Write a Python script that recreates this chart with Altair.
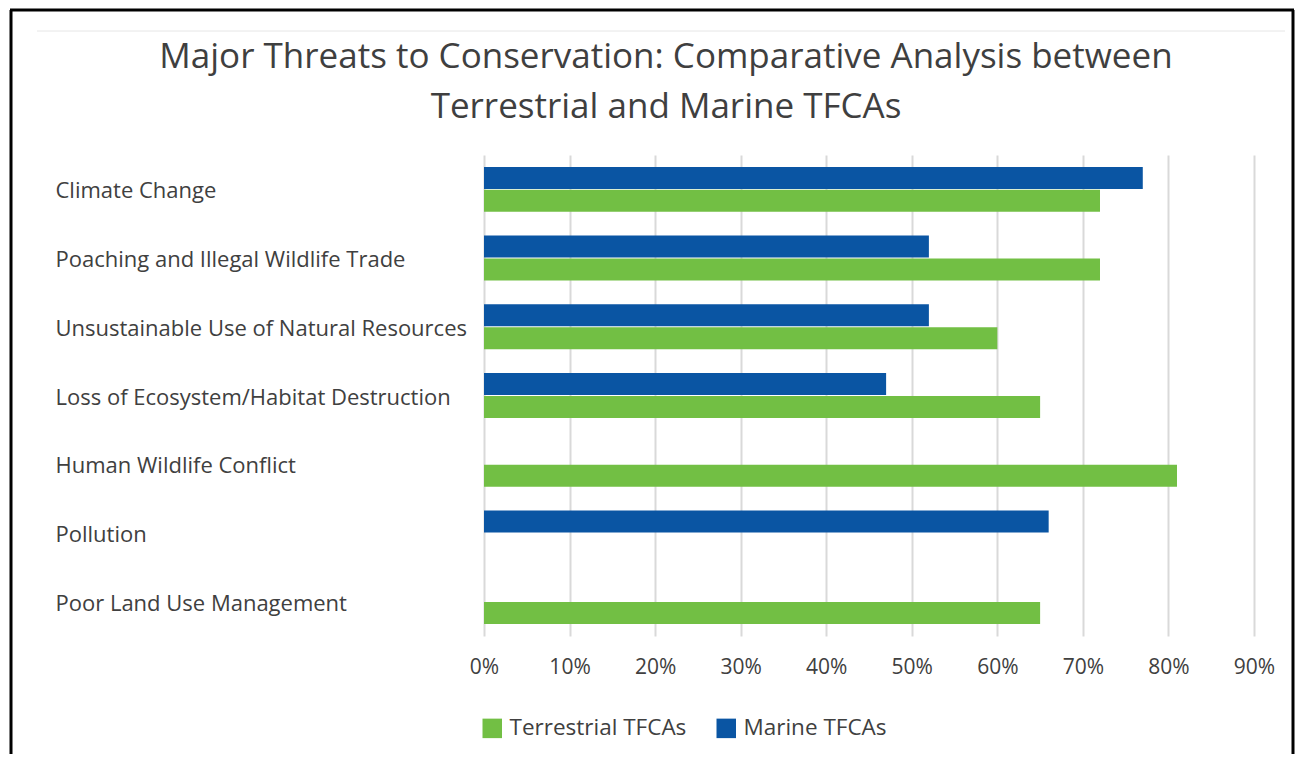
import altair as alt
import pandas as pd

categories = [
    "Climate Change",
    "Poaching and Illegal Wildlife Trade",
    "Unsustainable Use of Natural Resources",
    "Loss of Ecosystem/Habitat Destruction",
    "Human Wildlife Conflict",
    "Pollution",
    "Poor Land Use Management",
]
terrestrial = [72, 72, 60, 65, 81, None, 65]
marine = [77, 52, 52, 47, None, 66, None]
series_names = ["Terrestrial TFCAs", "Marine TFCAs"]
series_colors = ["#72bf44", "#0a55a3"]
x_ticks = [0, 10, 20, 30, 40, 50, 60, 70, 80, 90]
title_lines = [
    "Major Threats to Conservation: Comparative Analysis between",
    "Terrestrial and Marine TFCAs",
]

rows = []
for c, t, m in zip(categories, terrestrial, marine):
    if m is not None:
        rows.append({"Threat": c, "Series": series_names[1], "Value": m / 100})
    if t is not None:
        rows.append({"Threat": c, "Series": series_names[0], "Value": t / 100})
df = pd.DataFrame(rows)

FONT = "Open Sans"
TEXT = "#404040"
W, H = 770, 481

bars = alt.Chart(df).mark_bar(size=22).encode(
    x=alt.X(
        "Value:Q",
        scale=alt.Scale(domain=[0, 0.9], nice=False),
        axis=alt.Axis(
            values=[v / 100 for v in x_ticks],
            format=".0%",
            title=None,
            grid=True,
            gridColor="#d9d9d9",
            gridWidth=2,
            domain=False,
            ticks=False,
            labelFlush=False,
            labelPadding=20,
            labelFontSize=21,
            labelFont=FONT,
            labelColor=TEXT,
        ),
    ),
    y=alt.Y(
        "Threat:N",
        sort=categories,
        scale=alt.Scale(paddingInner=0.345, paddingOuter=0.1725),
        axis=alt.Axis(
            title=None,
            domain=False,
            ticks=False,
            tickSize=0,
            labelAlign="left",
            labelPadding=429,
            labelOffset=2,
            labelLimit=600,
            labelFontSize=22,
            labelFont=FONT,
            labelColor=TEXT,
        ),
    ),
    yOffset=alt.YOffset(
        "Series:N",
        sort=[series_names[1], series_names[0]],
        scale=alt.Scale(paddingInner=0.04, paddingOuter=0),
    ),
    color=alt.Color(
        "Series:N",
        scale=alt.Scale(domain=series_names, range=series_colors),
        legend=alt.Legend(
            title=None,
            orient="none",
            legendX=-3,
            legendY=562,
            direction="horizontal",
            symbolType="square",
            symbolSize=380,
            symbolStrokeWidth=0,
            labelFontSize=22.5,
            labelFont=FONT,
            labelColor=TEXT,
            labelLimit=400,
            labelOffset=6,
            columnPadding=28,
        ),
    ),
)

deco = alt.Data(values=[{"k": 1}])

title = alt.Chart(deco).mark_text(
    align="center", baseline="alphabetic", fontSize=35, font=FONT,
    color="#3f3f3f", lineHeight=50,
).encode(x=alt.value(182), y=alt.value(-87), text=alt.value(title_lines))

frame_left = alt.Chart(deco).mark_rule(color="#000000", strokeWidth=3).encode(
    x=alt.value(-473), y=alt.value(-145), y2=alt.value(H + 118))
frame_top = alt.Chart(deco).mark_rule(color="#000000", strokeWidth=3).encode(
    x=alt.value(-474), x2=alt.value(810), y=alt.value(-145))
frame_right = alt.Chart(deco).mark_rule(color="#000000", strokeWidth=3).encode(
    x=alt.value(809), y=alt.value(-145), y2=alt.value(H + 118))
top_line = alt.Chart(deco).mark_rule(color="#e6e6e6", strokeWidth=1).encode(
    x=alt.value(-447), x2=alt.value(801), y=alt.value(-124))

chart = alt.layer(frame_left, frame_top, frame_right, top_line, title, bars).properties(
    width=W,
    height=H,
    padding={"left": 476, "top": 147, "right": 41, "bottom": 118},
    autosize=alt.AutoSizeParams(type="none"),
    background="white",
).configure_view(stroke=None)

chart.save("out.html", embed_options={"renderer": "svg", "actions": False})
